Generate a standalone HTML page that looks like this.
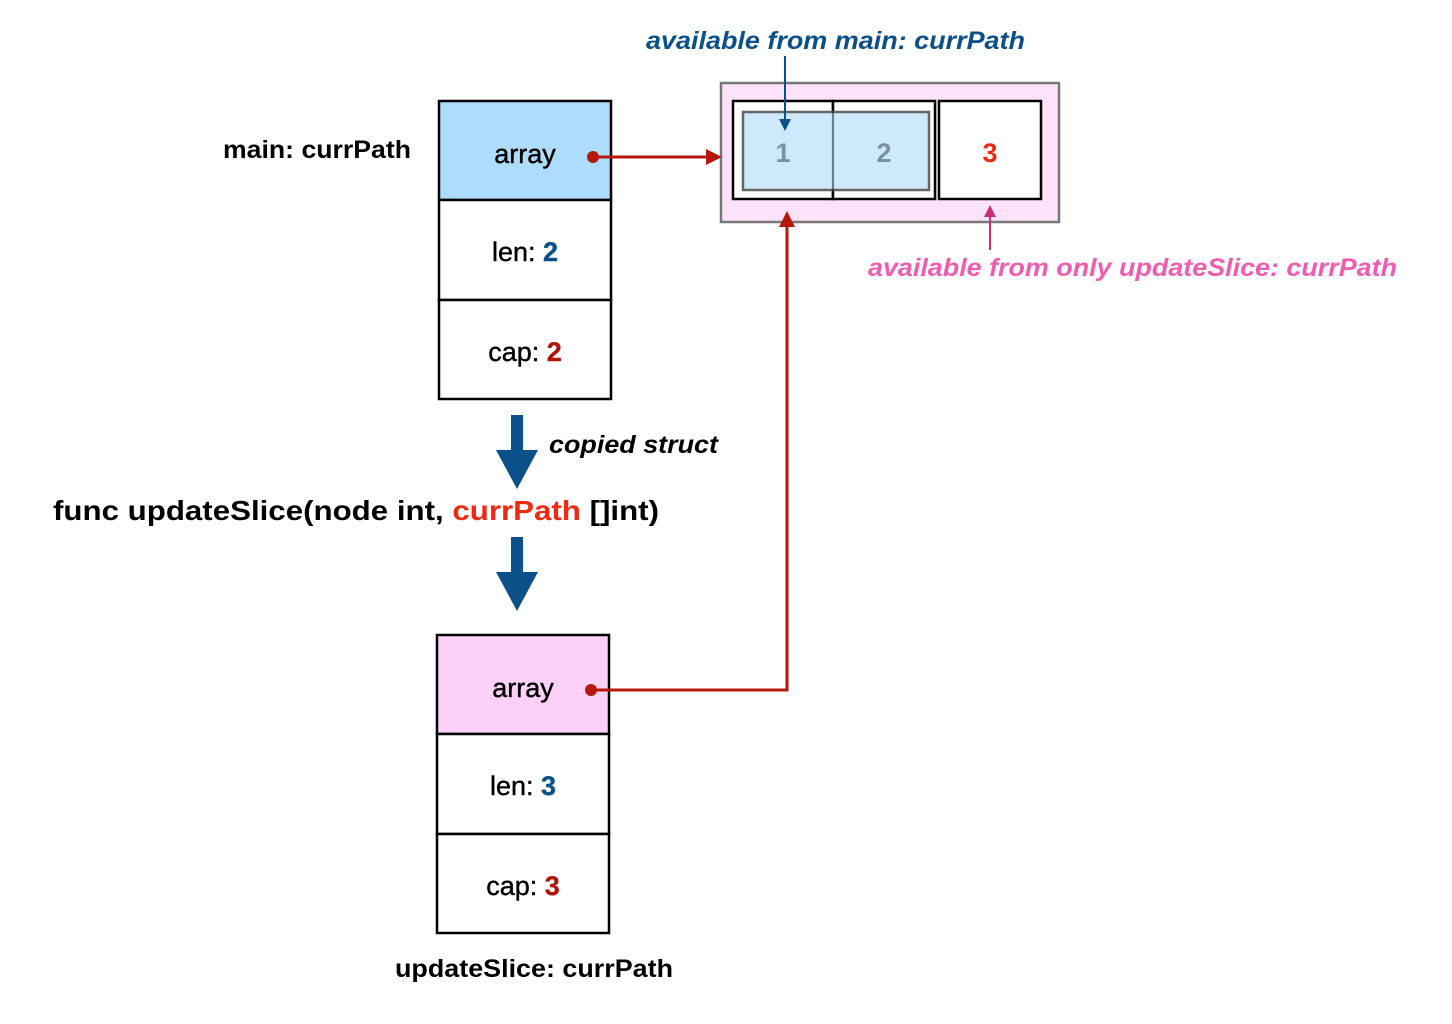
<!DOCTYPE html>
<html><head><meta charset="utf-8"><style>
html,body{margin:0;padding:0;background:#fff;}
svg{display:block;}
text{font-family:"Liberation Sans",sans-serif;}
</style></head><body>
<svg width="1452" height="1024" viewBox="0 0 1452 1024" xmlns="http://www.w3.org/2000/svg">
<!-- top struct -->
<rect x="439" y="101" width="172" height="99" fill="#aedcfd" stroke="#000" stroke-width="2.5"/>
<rect x="439" y="200" width="172" height="100" fill="#fff" stroke="#000" stroke-width="2.5"/>
<rect x="439" y="300" width="172" height="99" fill="#fff" stroke="#000" stroke-width="2.5"/>
<text x="525" y="163" font-size="27" text-anchor="middle" fill="#000" stroke="#000" stroke-width="0.4">array</text>
<text x="525" y="261" font-size="27" text-anchor="middle" fill="#000" stroke="#000" stroke-width="0.4">len: <tspan font-weight="bold" fill="#0b5088" stroke="#0b5088">2</tspan></text>
<text x="525" y="361" font-size="27" text-anchor="middle" fill="#000" stroke="#000" stroke-width="0.4">cap: <tspan font-weight="bold" fill="#b0150b" stroke="#b0150b">2</tspan></text>
<text x="223" y="158" font-size="25" font-weight="bold" textLength="188" lengthAdjust="spacingAndGlyphs">main: currPath</text>

<!-- array box -->
<rect x="721" y="83" width="338" height="139" fill="#fde3f9" stroke="#777" stroke-width="2.5"/>
<rect x="733" y="101" width="100" height="98" fill="#fff" stroke="#000" stroke-width="2.5"/>
<rect x="833" y="101" width="102" height="98" fill="#fff" stroke="#000" stroke-width="2.5"/>
<rect x="939" y="101" width="102" height="98" fill="#fff" stroke="#000" stroke-width="2.5"/>
<rect x="743" y="112" width="186" height="78" fill="#c9e7fb" fill-opacity="0.9" stroke="#666" stroke-width="2.5"/>
<line x1="833" y1="101" x2="833" y2="199" stroke="#000" stroke-opacity="0.4" stroke-width="2"/>
<text x="783" y="162" font-size="27" font-weight="bold" text-anchor="middle" fill="#7991a4">1</text>
<text x="884" y="162" font-size="27" font-weight="bold" text-anchor="middle" fill="#7991a4">2</text>
<text x="990" y="162" font-size="27" font-weight="bold" text-anchor="middle" fill="#ee2a12">3</text>

<!-- labels -->
<text x="646" y="49" font-size="25" font-weight="bold" font-style="italic" fill="#0b5088" textLength="379" lengthAdjust="spacingAndGlyphs">available from main: currPath</text>
<line x1="785" y1="56" x2="785" y2="120" stroke="#0b5088" stroke-width="2"/>
<polygon points="779,119 791,119 785,131" fill="#0b5088"/>
<text x="868" y="276" font-size="25" font-weight="bold" font-style="italic" fill="#ef5db0" textLength="529" lengthAdjust="spacingAndGlyphs">available from only updateSlice: currPath</text>
<line x1="990" y1="250" x2="990" y2="215" stroke="#c8307a" stroke-width="2"/>
<polygon points="984,217 996,217 990,205" fill="#c8307a"/>

<!-- connector top -->
<circle cx="593" cy="157" r="6" fill="#b5170b"/>
<line x1="593" y1="157" x2="708" y2="157" stroke="#b5170b" stroke-width="3"/>
<polygon points="706,149 722,157 706,165" fill="#b5170b"/>

<!-- big arrows -->
<rect x="511" y="415" width="12" height="37" fill="#0b5088"/>
<polygon points="496,450 538,450 517,489" fill="#0b5088"/>
<rect x="511" y="537" width="12" height="37" fill="#0b5088"/>
<polygon points="496,572 538,572 517,611" fill="#0b5088"/>
<text x="549" y="453" font-size="25" font-weight="bold" font-style="italic" textLength="169" lengthAdjust="spacingAndGlyphs">copied struct</text>
<text x="53" y="520" font-size="28" font-weight="bold" fill="#000" textLength="606" lengthAdjust="spacingAndGlyphs" font-family="'DejaVu Sans',sans-serif">func updateSlice(node int, <tspan fill="#ee2a12">currPath</tspan> []int)</text>

<!-- bottom struct -->
<rect x="437" y="635" width="172" height="99" fill="#fdd0f8" stroke="#000" stroke-width="2.5"/>
<rect x="437" y="734" width="172" height="100" fill="#fff" stroke="#000" stroke-width="2.5"/>
<rect x="437" y="834" width="172" height="99" fill="#fff" stroke="#000" stroke-width="2.5"/>
<text x="523" y="697" font-size="27" text-anchor="middle" fill="#000" stroke="#000" stroke-width="0.4">array</text>
<text x="523" y="795" font-size="27" text-anchor="middle" fill="#000" stroke="#000" stroke-width="0.4">len: <tspan font-weight="bold" fill="#0b5088" stroke="#0b5088">3</tspan></text>
<text x="523" y="895" font-size="27" text-anchor="middle" fill="#000" stroke="#000" stroke-width="0.4">cap: <tspan font-weight="bold" fill="#b0150b" stroke="#b0150b">3</tspan></text>
<text x="395" y="977" font-size="25" font-weight="bold" textLength="278" lengthAdjust="spacingAndGlyphs">updateSlice: currPath</text>

<!-- connector bottom -->
<circle cx="591" cy="690" r="6" fill="#b5170b"/>
<polyline points="591,690 787,690 787,225" fill="none" stroke="#b5170b" stroke-width="3"/>
<polygon points="779,227 795,227 787,211" fill="#b5170b"/>
</svg>
</body></html>
